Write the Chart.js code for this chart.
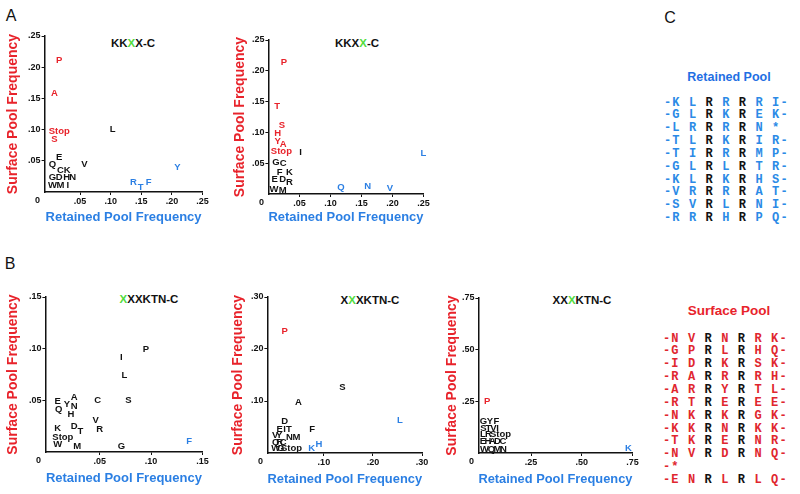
<!DOCTYPE html>
<html>
<head>
<meta charset="utf-8">
<script src="https://cdn.jsdelivr.net/npm/chart.js@4/dist/chart.umd.min.js"></script>
<style>
  body { margin: 0; background: #fff; }
  #fig { position: relative; width: 800px; height: 494px; overflow: hidden; font-family: "Liberation Sans", Arial, Helvetica, sans-serif; }
  canvas { position: absolute; }
  .tag { position: absolute; font-size: 16px; transform: translate(-50%, -50%); color: #111; }
  .ttl { position: absolute; font-size: 11.5px; font-weight: bold; transform: translate(-50%, -50%); color: #111; white-space: nowrap; }
  .g { color: #52dc3e; }
  .head { position: absolute; font-weight: bold; transform: translate(-50%, -50%); white-space: nowrap; }
  .seq { position: absolute; font-family: "Liberation Mono", "Courier New", monospace; font-weight: bold; font-size: 12px; letter-spacing: 1.1px; white-space: pre; }
  .seq div { height: 12.85px; line-height: 12.85px; }
</style>
</head>
<body>
<div id="fig">
  <div class="tag" style="left:11px;top:16px">A</div>
  <div class="tag" style="left:10px;top:264px">B</div>
  <div class="tag" style="left:670px;top:18px">C</div>

  <div class="ttl" style="left:133px;top:43px">KK<span class="g">X</span>X-C</div>
  <div class="ttl" style="left:357px;top:43px">KKX<span class="g">X</span>-C</div>
  <div class="ttl" style="left:149px;top:299px"><span class="g">X</span>XXKTN-C</div>
  <div class="ttl" style="left:370px;top:300px">X<span class="g">X</span>XKTN-C</div>
  <div class="ttl" style="left:582px;top:300px">XX<span class="g">X</span>KTN-C</div>

  <canvas id="a1"></canvas>
  <canvas id="a2"></canvas>
  <canvas id="b1"></canvas>
  <canvas id="b2"></canvas>
  <canvas id="b3"></canvas>

  <div class="head" style="left:729px;top:77px;font-size:12.5px;color:#1f6fe3">Retained Pool</div>
  <div class="seq" id="retained" style="left:664px;top:96.5px"></div>
  <div class="head" style="left:729px;top:310px;font-size:13.5px;color:#e8232b">Surface Pool</div>
  <div class="seq" id="surface" style="left:663px;top:332.6px"></div>
</div>

<script>
// KKXX-C, third position
const a1Labels = ['P', 'A', 'Stop', 'S', 'L', 'E', 'Q', 'C', 'K', 'V', 'G', 'D', 'H', 'N', 'W', 'M', 'I', 'R', 'T', 'F', 'Y'];
const a1Retained = [0.016, 0.008, 0.016, 0.008, 0.103, 0.016, 0.005, 0.018, 0.029, 0.057, 0.005, 0.016, 0.028, 0.038, 0.005, 0.018, 0.030, 0.137, 0.149, 0.162, 0.209];
const a1Surface = [0.211, 0.158, 0.097, 0.085, 0.101, 0.056, 0.044, 0.035, 0.035, 0.044, 0.024, 0.024, 0.024, 0.024, 0.011, 0.011, 0.011, 0.016, 0.008, 0.016, 0.039];
const a1Pool = ['s', 's', 's', 's', 'n', 'n', 'n', 'n', 'n', 'n', 'n', 'n', 'n', 'n', 'n', 'n', 'n', 'r', 'r', 'r', 'r'];

// KKXX-C, fourth position
const a2Labels = ['P', 'T', 'S', 'H', 'Y', 'A', 'Stop', 'I', 'L', 'G', 'C', 'F', 'K', 'E', 'D', 'R', 'W', 'M', 'Q', 'N', 'V'];
const a2Retained = [0.025, 0.014, 0.022, 0.015, 0.015, 0.024, 0.021, 0.052, 0.250, 0.012, 0.024, 0.018, 0.034, 0.010, 0.023, 0.034, 0.009, 0.023, 0.117, 0.160, 0.196];
const a2Surface = [0.213, 0.143, 0.111, 0.098, 0.085, 0.080, 0.069, 0.067, 0.066, 0.051, 0.049, 0.035, 0.035, 0.023, 0.023, 0.019, 0.008, 0.006, 0.010, 0.012, 0.009];
const a2Pool = ['s', 's', 's', 's', 's', 's', 's', 'n', 'r', 'n', 'n', 'n', 'n', 'n', 'n', 'n', 'n', 'n', 'r', 'r', 'r'];

// XXXKTN-C, first position
const b1Labels = ['P', 'I', 'L', 'S', 'C', 'A', 'E', 'Y', 'N', 'Q', 'H', 'V', 'R', 'K', 'D', 'T', 'Stop', 'W', 'M', 'G', 'F'];
const b1Retained = [0.095, 0.071, 0.074, 0.078, 0.048, 0.025, 0.009, 0.018, 0.025, 0.010, 0.022, 0.046, 0.050, 0.009, 0.025, 0.031, 0.014, 0.009, 0.028, 0.071, 0.137];
const b1Surface = [0.099, 0.092, 0.074, 0.050, 0.050, 0.053, 0.049, 0.046, 0.044, 0.041, 0.036, 0.031, 0.022, 0.023, 0.025, 0.020, 0.014, 0.007, 0.005, 0.005, 0.010];
const b1Pool = ['n', 'n', 'n', 'n', 'n', 'n', 'n', 'n', 'n', 'n', 'n', 'n', 'n', 'n', 'n', 'n', 'n', 'n', 'n', 'n', 'r'];

// XXXKTN-C, second position
const b2Labels = ['P', 'S', 'A', 'L', 'D', 'E', 'I', 'T', 'F', 'V', 'Y', 'N', 'M', 'Q', 'R', 'C', 'W', 'G', 'Stop', 'K', 'H'];
const b2Retained = [0.020, 0.138, 0.048, 0.255, 0.020, 0.010, 0.020, 0.029, 0.076, 0.001, 0.009, 0.030, 0.044, 0.002, 0.010, 0.017, 0.002, 0.012, 0.034, 0.075, 0.090];
const b2Surface = [0.233, 0.126, 0.098, 0.062, 0.060, 0.046, 0.046, 0.046, 0.046, 0.034, 0.034, 0.030, 0.030, 0.021, 0.021, 0.021, 0.009, 0.009, 0.009, 0.009, 0.017];
const b2Pool = ['s', 'n', 'n', 'r', 'n', 'n', 'n', 'n', 'n', 'n', 'n', 'n', 'n', 'n', 'n', 'n', 'n', 'n', 'n', 'r', 'r'];

// XXXKTN-C, third position
const b3Labels = ['P', 'G', 'Y', 'F', 'S', 'T', 'V', 'I', 'L', 'R', 'Stop', 'E', 'H', 'A', 'D', 'C', 'W', 'Q', 'M', 'N', 'K'];
const b3Retained = [0.033, 0.015, 0.047, 0.079, 0.015, 0.039, 0.064, 0.084, 0.012, 0.039, 0.099, 0.012, 0.037, 0.059, 0.084, 0.111, 0.020, 0.054, 0.084, 0.113, 0.731];
const b3Surface = [0.250, 0.153, 0.153, 0.153, 0.121, 0.121, 0.121, 0.121, 0.089, 0.089, 0.089, 0.056, 0.056, 0.056, 0.056, 0.056, 0.019, 0.019, 0.019, 0.019, 0.024];
const b3Pool = ['s', 'n', 'n', 'n', 'n', 'n', 'n', 'n', 'n', 'n', 'n', 'n', 'n', 'n', 'n', 'n', 'n', 'n', 'n', 'n', 'r'];

const aTicks = [0.05, 0.10, 0.15, 0.20, 0.25];
const b1Ticks = [0.05, 0.10, 0.15];
const b2Ticks = [0.10, 0.20, 0.30];
const b3Ticks = [0.25, 0.50, 0.75];

const retainedSeqs = [
    '-KLRRRRI-', '-GLRKREK-', '-LRRRRN*', '-TLRKRIR-', '-TIRRRMP-',
    '-GLRLRTR-', '-KLRKRHS-', '-VRRRRAT-', '-SVRLRNI-', '-RRRHRPQ-'
];
const surfaceSeqs = [
    '-NVRNRRK-', '-GPRLRHQ-', '-IDRKRSK-', '-RARRRRH-', '-ARRYRTL-', '-RTREREE-',
    '-NKRKRGK-', '-KKRNRKK-', '-TKRERNR-', '-NVRDRNQ-', '-*', '-ENRLRLQ-'
];

const RED = '#e8232b';
const BLUE = '#2b7fe3';
const poolColor = { s: RED, r: BLUE, n: '#111' };
const FONT = '"Liberation Sans", Arial, Helvetica, sans-serif';

const fmt = v => v.toFixed(2).slice(1);

const letters = {
    id: 'letters',
    afterDatasetsDraw(chart) {
        const ctx = chart.ctx;
        const ds = chart.data.datasets[0];
        const meta = chart.getDatasetMeta(0);
        ctx.save();
        ctx.font = 'bold 9.5px ' + FONT;
        ctx.textAlign = 'center';
        ctx.textBaseline = 'middle';
        meta.data.forEach((pt, i) => {
            ctx.fillStyle = ds.colors[i];
            ctx.fillText(ds.names[i], pt.x, pt.y);
        });
        // shared origin label
        ctx.fillStyle = '#111';
        ctx.font = 'bold 9px ' + FONT;
        ctx.fillText('0', chart.chartArea.left - 7, chart.chartArea.bottom + 9);
        ctx.restore();
    }
};

function scatter(id, box, area, xr, yr, xTicks, yTicks, names, xs, ys, pool) {
    const canvas = document.getElementById(id);
    canvas.width = box[2];
    canvas.height = box[3];
    canvas.style.left = box[0] + 'px';
    canvas.style.top = box[1] + 'px';

    const axis = (min, max, ticks, title, color, fit) => ({
        type: 'linear',
        min: min,
        max: max,
        afterBuildTicks: s => { s.ticks = ticks.map(v => ({ value: v })); },
        afterFit: fit,
        ticks: { callback: fmt, color: '#111', font: { family: FONT, size: 9, weight: 'bold' }, padding: 1, maxRotation: 0, autoSkip: false },
        grid: { drawOnChartArea: false, tickLength: 3, color: '#111' },
        border: { color: '#111', width: 1.5 },
        title: { display: true, text: title, color: color, padding: 0, font: { family: FONT, size: title[0] === 'S' ? 14 : 13, weight: 'bold' } }
    });

    new Chart(canvas, {
        type: 'scatter',
        data: {
            datasets: [{
                data: xs.map((x, i) => ({ x: x, y: ys[i] })),
                names: names,
                colors: pool.map(p => poolColor[p]),
                pointRadius: 0
            }]
        },
        options: {
            responsive: false,
            animation: false,
            layout: { padding: { top: area[1] - box[1], right: box[0] + box[2] - area[2], left: 0, bottom: 0 } },
            plugins: { legend: { display: false }, tooltip: { enabled: false } },
            scales: {
                x: axis(xr[0], xr[1], xTicks, 'Retained Pool Frequency', BLUE, s => { s.height = box[1] + box[3] - area[3]; }),
                y: axis(yr[0], yr[1], yTicks, 'Surface Pool Frequency', RED, s => { s.width = area[0] - box[0]; })
            }
        },
        plugins: [letters]
    });
}

scatter('a1', [5, 20, 215, 205], [44.6, 36, 202.5, 192], [-0.008, 0.25], [0, 0.25], aTicks, aTicks, a1Labels, a1Retained, a1Surface, a1Pool);
scatter('a2', [231.6, 20, 208, 205], [268, 40, 423, 194], [0, 0.25], [0, 0.25], aTicks, aTicks, a2Labels, a2Retained, a2Surface, a2Pool);
scatter('b1', [4.6, 280, 210, 206], [45, 297, 202, 452], [-0.003, 0.15], [0, 0.15], b1Ticks, b1Ticks, b1Labels, b1Retained, b1Surface, b1Pool);
scatter('b2', [229.6, 280, 208, 207], [267, 297, 421.7, 453], [-0.015, 0.30], [0, 0.30], b2Ticks, b2Ticks, b2Labels, b2Retained, b2Surface, b2Pool);
scatter('b3', [443.6, 280, 204, 207], [478, 298, 632, 453], [-0.01, 0.75], [0, 0.75], b3Ticks, b3Ticks, b3Labels, b3Retained, b3Surface, b3Pool);

// sequence lists: positions 3 and 5 are the fixed R residues (black)
function fillSeqs(id, seqs, cls) {
    const el = document.getElementById(id);
    seqs.forEach(s => {
        const row = document.createElement('div');
        const chars = s.split('');
        let html = '';
        chars.forEach((c, i) => {
            const last = i === chars.length - 1;
            const sep = (i === 0 || last || (i === chars.length - 2 && chars[chars.length - 1] === '-')) ? '' : ' ';
            const black = (i === 3 || i === 5) && s.length > 2;
            html += '<span style="color:' + (black ? '#111' : cls) + '">' + c + '</span>' + sep;
        });
        row.innerHTML = html;
        el.appendChild(row);
    });
}
fillSeqs('retained', retainedSeqs, '#2b8ae6');
fillSeqs('surface', surfaceSeqs, '#e0262e');
</script>
</body>
</html>
